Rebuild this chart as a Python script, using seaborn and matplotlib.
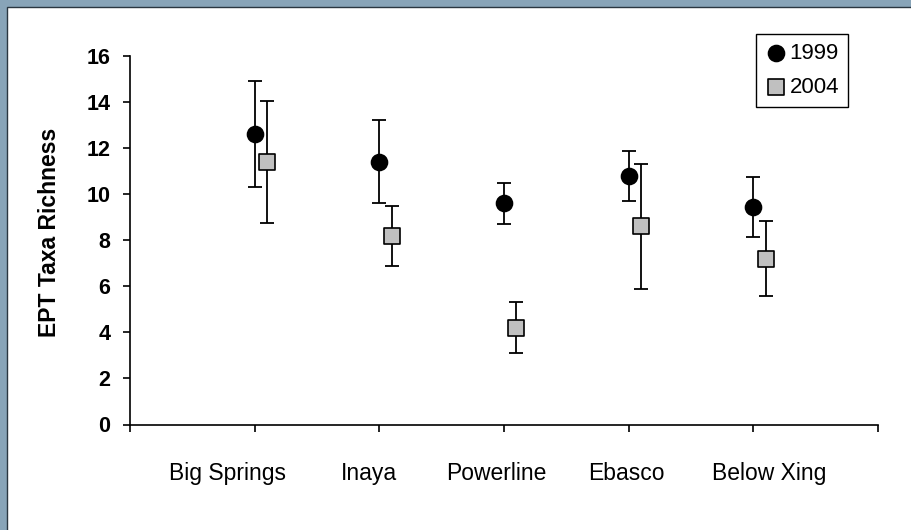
import pandas as pd
import matplotlib.pyplot as plt
import matplotlib.patches as mpatches
import seaborn as sns

# Data
sites = ['Big Springs', 'Inaya', 'Powerline', 'Ebasco', 'Below Xing']
mean_1999 = [12.6, 11.4, 9.6, 10.8, 9.45]
err_1999 = [2.3, 1.8, 0.9, 1.08, 1.3]
mean_2004 = [11.4, 8.2, 4.2, 8.6, 7.2]
err_2004 = [2.65, 1.3, 1.1, 2.72, 1.63]

site_pos = list(range(1, len(sites) + 1))
df = pd.DataFrame({
    'site': sites * 2,
    'x': site_pos + [p + 0.1 for p in site_pos],
    'richness': mean_1999 + mean_2004,
    'err': err_1999 + err_2004,
    'year': ['1999'] * len(sites) + ['2004'] * len(sites),
})

sns.set_style('white')
plt.rcParams['font.family'] = ['Liberation Sans', 'DejaVu Sans']
plt.rcParams['text.color'] = 'black'
plt.rcParams['axes.labelcolor'] = 'black'
plt.rcParams['xtick.color'] = 'black'
plt.rcParams['ytick.color'] = 'black'

fig = plt.figure(figsize=(9.11, 5.30), dpi=100)
fig.patch.set_facecolor('#88a4b8')
# white panel with dark inner edge (only top/left visible)
fig.add_artist(mpatches.Rectangle((7 / 911, -0.05), 1.1, 1 - 7 / 530 + 0.05,
                                  transform=fig.transFigure, facecolor='white',
                                  edgecolor='#2a3640', linewidth=1.0, zorder=0))

ax = fig.add_axes([130 / 911, 1 - 424.5 / 530, 748 / 911, 368.5 / 530])
ax.set_facecolor('none')

styles = {'1999': dict(marker='o', color='black', edgecolor='black', s=132),
          '2004': dict(marker='s', color='#c0c0c0', edgecolor='black', s=118)}

for year, grp in df.groupby('year'):
    ax.errorbar(grp['x'], grp['richness'], yerr=grp['err'], fmt='none',
                ecolor='black', elinewidth=1.3, capsize=5, capthick=1.3, zorder=2)
    sns.scatterplot(x=grp['x'], y=grp['richness'], ax=ax, label=year,
                    linewidth=1.2, zorder=3, **styles[year])

ax.set_xlim(0, 6)
ax.set_ylim(0, 16)
ax.set_xticks(range(0, 7))
ax.set_xticklabels([])
ax.set_yticks(range(0, 17, 2))
ax.tick_params(axis='both', direction='out', length=5, width=1.2, color='black',
               bottom=True, left=True)
ax.tick_params(axis='y', labelsize=15.5, pad=9, labelcolor='black')
for lab in ax.get_yticklabels():
    lab.set_fontweight('bold')
ax.set_xlabel('')
ax.set_ylabel('EPT Taxa Richness', fontsize=16.5, fontweight='bold', color='black')
ax.yaxis.set_label_coords(-0.092, 0.522)

for side in ['top', 'right']:
    ax.spines[side].set_visible(False)
for side in ['left', 'bottom']:
    ax.spines[side].set_color('black')
    ax.spines[side].set_linewidth(1.2)

# category labels placed under the axis like the original text boxes
label_x = [0.783, 1.92, 2.935, 3.978, 5.124]
for lx, name in zip(label_x, sites):
    ax.text(lx, -0.1506, name, transform=ax.get_xaxis_transform(),
            ha='center', va='baseline', fontsize=16.5, color='black')

leg = ax.legend(loc='upper right', bbox_to_anchor=(848 / 911, 1 - 34 / 530),
                bbox_transform=fig.transFigure, fontsize=16, frameon=True,
                fancybox=False, edgecolor='black', framealpha=1,
                handletextpad=0.1, handlelength=1.0, labelspacing=0.6,
                borderpad=0.4, borderaxespad=0)
leg.get_frame().set_linewidth(1.0)
for t in leg.get_texts():
    t.set_color('black')

fig.savefig('out.png', dpi=100)
